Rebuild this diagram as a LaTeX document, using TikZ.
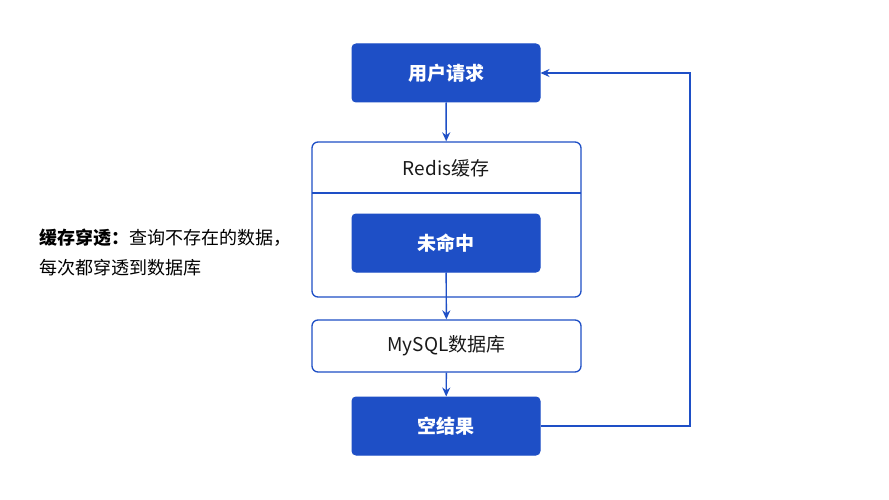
\documentclass[tikz,border=0pt]{standalone}
\usepackage{fontspec}
\setmainfont{Noto Sans CJK SC}
\usetikzlibrary{arrows.meta}
\definecolor{blu}{HTML}{1E4FC6}
\begin{document}
\begin{tikzpicture}[x=1pt,y=-1pt,
  filled/.style={draw=blu,fill=blu,rounded corners=4pt,text=white,font=\fontsize{19}{22}\selectfont\bfseries,line width=1pt},
  outl/.style={draw=blu,fill=white,rounded corners=6pt,line width=1.3pt,text=black!90,font=\fontsize{19}{22}\selectfont},
  arr/.style={draw=blu,line width=1.4pt,-{Stealth[length=9pt,width=8pt]}}]
\useasboundingbox[fill=white] (0,0) rectangle (889,500);
\node[filled,minimum width=188pt,minimum height=58pt] (req) at (446,73) {用户请求};
\node[outl,minimum width=269pt,minimum height=155pt] (redis) at (446.5,219.5) {};
\draw[blu,line width=1.3pt] (312,193) -- (581,193);
\node[font=\fontsize{19}{22}\selectfont,text=black!90] (rlabel) at (446,168) {Redis缓存};
\node[filled,minimum width=188pt,minimum height=58pt] (miss) at (446,243) {未命中};
\node[outl,minimum width=269pt,minimum height=52pt] (mysql) at (446.5,346) {MySQL数据库};
\node[filled,minimum width=188pt,minimum height=58pt] (empty) at (446,426) {空结果};
\draw[arr] (req) -- (redis);
\draw[arr] (miss) -- (mysql);
\draw[arr] (mysql) -- (empty);
\coordinate (c1) at (690,426);
\coordinate (c2) at (690,73);
\draw[arr] (empty.east) -- (c1) -- (c2) -- (req.east);
\node[anchor=west,font=\fontsize{18}{21}\selectfont] (note1) at (36,238) {\textbf{缓存穿透：}查询不存在的数据，};
\node[anchor=west,font=\fontsize{18}{21}\selectfont] (note2) at (36,268) {每次都穿透到数据库};
\end{tikzpicture}
\end{document}
